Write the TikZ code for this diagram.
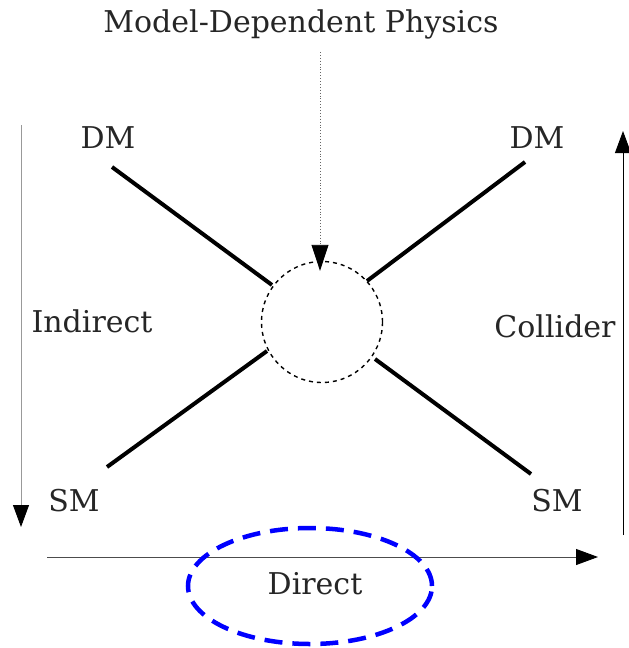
\documentclass[tikz,border=0pt]{standalone}
\usepackage{fontspec}
\setmainfont{DejaVu Serif}
\usetikzlibrary{arrows.meta,shapes.geometric}
\begin{document}
\begin{tikzpicture}[x=1pt,y=-1pt,
  lbl/.style={text=black!85, font=\fontsize{30}{32}\selectfont, inner sep=0pt},
  leg/.style={line width=4pt, line cap=butt},
  tip/.style={-{Triangle[length=22pt,width=16pt,black]}},
  axis/.style={line width=0.9pt, tip},
  blob/.style={circle, draw, dashed, line width=1.4pt, dash pattern=on 4pt off 4pt, minimum size=121pt, inner sep=0pt}]
\useasboundingbox (0,0) rectangle (629,648);
\node[lbl] (title) at (301,24) {Model-Dependent Physics};
\node[blob] (v) at (322,322) {};
\coordinate (tstart) at (320,52);
\draw[dotted, line width=0.9pt, black!60, -{Triangle[length=26pt,width=17pt,black]}] (tstart) -- ([yshift=-10pt]v.north -| tstart);
\node[lbl] (dm1) at (108,138) {DM};
\node[lbl] (dm2) at (537,138) {DM};
\node[lbl] (sm1) at (74,501) {SM};
\node[lbl] (sm2) at (557,501) {SM};
\coordinate (a1) at (112,167); \coordinate (a2) at (272,285);
\coordinate (b1) at (107,467); \coordinate (b2) at (267,351);
\coordinate (c1) at (525,162); \coordinate (c2) at (367,281);
\coordinate (d1) at (531,474); \coordinate (d2) at (375,359);
\draw[leg] (a1) -- (a2);
\draw[leg] (b1) -- (b2);
\draw[leg] (c1) -- (c2);
\draw[leg] (d1) -- (d2);
\node[lbl] (ind) at (92,321) {Indirect};
\node[lbl] (col) at (555,326) {Collider};
\coordinate (l1) at (21,125); \coordinate (l2) at (21,527);
\draw[axis, black!40] (l1) -- (l2);
\coordinate (r1) at (623,535); \coordinate (r2) at (623,131);
\draw[axis] (r1) -- (r2);
\coordinate (h1) at (47,557); \coordinate (h2) at (598,557);
\draw[axis, black!70] (h1) -- (h2);
\node[lbl] (dir) at (315,584) {Direct};
\node[ellipse, draw=blue, dashed, line width=4.5pt, dash pattern=on 18pt off 10pt, minimum width=244pt, minimum height=116pt, inner sep=0pt] (ell) at (310,586) {};
\end{tikzpicture}
\end{document}
